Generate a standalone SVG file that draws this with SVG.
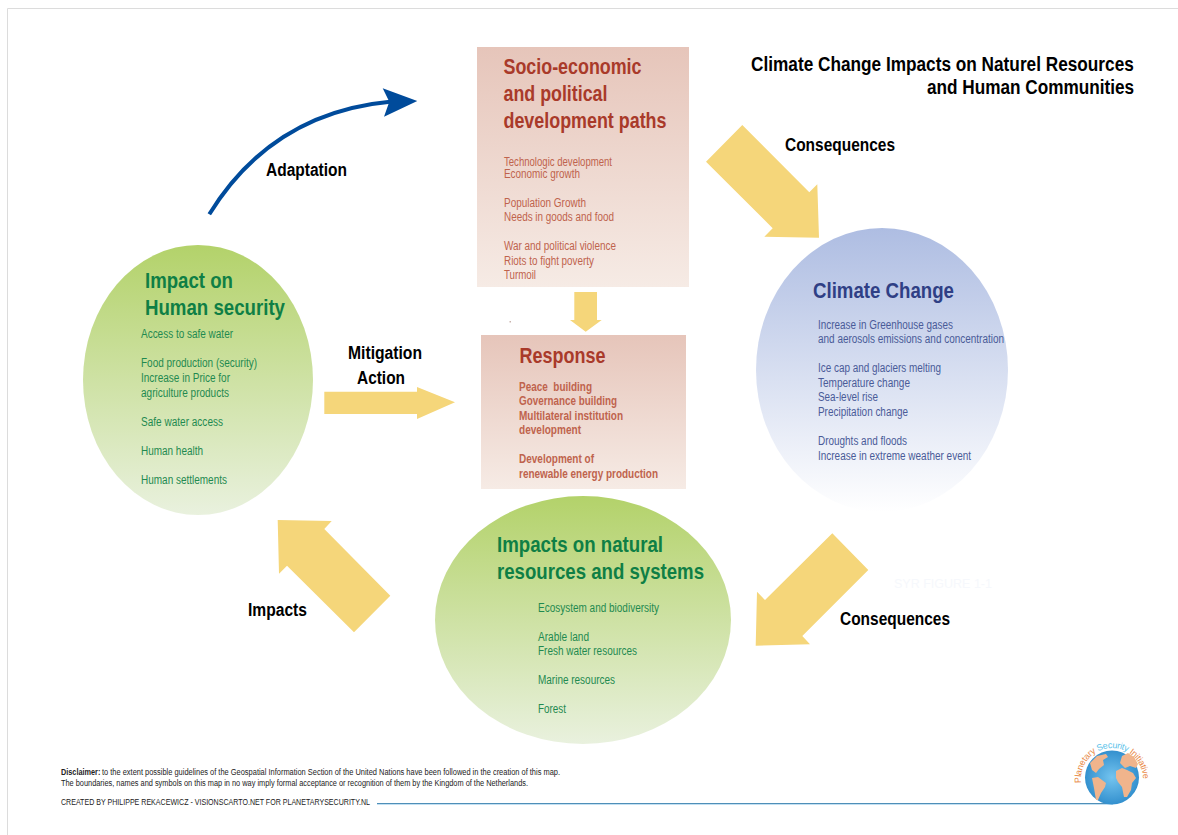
<svg xmlns="http://www.w3.org/2000/svg" width="1178" height="835" viewBox="0 0 1178 835">
<style>
text{font-family:"Liberation Sans",Arial,sans-serif}
.h{font-weight:bold;font-size:22px}
.g{fill:#0f7f45}
.gs{fill:#1f8a50}
.s{font-size:12px}
.r{fill:#bf634d}.rh{fill:#a93a2a}
.b{fill:#4a5b98}.bh{fill:#2f3f85}
.k{font-weight:bold;font-size:18px;fill:#000}
.ar{fill:#f5d67a}
.d{font-size:8.5px;fill:#222}
.cn{fill:#f0b48c}
</style>
<defs>
<linearGradient id="gr" x1="0" y1="0" x2="0" y2="1"><stop offset="0" stop-color="#b3d26a"/><stop offset="1" stop-color="#e9f1de"/></linearGradient>
<linearGradient id="bl" x1="0" y1="0" x2="0" y2="1"><stop offset="0" stop-color="#aebde2"/><stop offset="1" stop-color="#ffffff"/></linearGradient>
<linearGradient id="re" x1="0" y1="0" x2="0" y2="1"><stop offset="0" stop-color="#e6c5ba"/><stop offset="1" stop-color="#f6ebe5"/></linearGradient>
<radialGradient id="gl" cx="0.5" cy="0.5" r="0.55"><stop offset="0" stop-color="#74c4ef"/><stop offset="1" stop-color="#2d8bcb"/></radialGradient>
<path id="arc" d="M1081.2 782.8A31 31 0 1 1 1138.8 794.5"/>
</defs>
<rect width="1178" height="835" fill="#fff"/>
<path d="M1178 8.5H7.5V835" fill="none" stroke="#dcdcdc" stroke-width="1"/>
<g id="title" font-weight="bold" font-size="20">
<text transform="translate(751 71) scale(.87 1)" textLength="440" lengthAdjust="spacingAndGlyphs">Climate Change Impacts on Naturel Resources</text>
<text transform="translate(927 94) scale(.87 1)" textLength="238" lengthAdjust="spacingAndGlyphs">and Human Communities</text>
</g>
<g id="connectors">
<path d="M209.300 214.300C255 140 320 108 392 101.500" fill="none" stroke="#004b9b" stroke-width="4"/>
<path d="M382.700 88.300L417.300 101L384 116.700L389.300 101.700Z" fill="#004b9b"/>
<path class="ar" d="M742.300 125L809.300 192.300L817.300 184.300L819 237.700L764.300 236.700L772.700 228.300L706 161.700Z"/>
<path class="ar" d="M574.300 292H597V320H601.700L585.700 331.700L570 320H574.300Z"/>
<path class="ar" d="M324.300 391.700H417V387L455 402.300L417 419V414H324.300Z"/>
<path class="ar" d="M832.300 533.300L868.300 570L802.300 636L810 644.300L755.700 645.700L757 591.700L765 600Z"/>
<path class="ar" d="M277.700 520L331.700 521L324.300 529L390.300 595.700L354 632.300L287 565.700L279 573.700Z"/>
</g>
<rect x="509.500" y="321" width="1.500" height="1.500" fill="#c9b3ad"/>
<g id="socio">
<rect x="477" y="47" width="212" height="240" fill="url(#re)"/>
<g class="h rh"><text x="503.500" y="74" textLength="138" lengthAdjust="spacingAndGlyphs">Socio-economic</text><text x="503.500" y="101" textLength="104" lengthAdjust="spacingAndGlyphs">and political</text><text x="503.500" y="128" textLength="163" lengthAdjust="spacingAndGlyphs">development paths</text></g>
<g class="s r"><text x="504" y="166" textLength="108" lengthAdjust="spacingAndGlyphs">Technologic development</text><text x="504" y="178" textLength="76" lengthAdjust="spacingAndGlyphs">Economic growth</text><text x="504" y="207" textLength="82" lengthAdjust="spacingAndGlyphs">Population Growth</text><text x="504" y="221" textLength="110" lengthAdjust="spacingAndGlyphs">Needs in goods and food</text><text x="504" y="250" textLength="112" lengthAdjust="spacingAndGlyphs">War and political violence</text><text x="504" y="265" textLength="90" lengthAdjust="spacingAndGlyphs">Riots to fight poverty</text><text x="504" y="279" textLength="32" lengthAdjust="spacingAndGlyphs">Turmoil</text></g>
</g>
<g id="response">
<rect x="481" y="335" width="205" height="154" fill="url(#re)"/>
<text class="h rh" x="519.500" y="363" textLength="86" lengthAdjust="spacingAndGlyphs">Response</text>
<g class="s r" font-weight="bold"><text x="519" y="391" textLength="73" lengthAdjust="spacingAndGlyphs">Peace&#160; building</text><text x="519" y="405" textLength="98" lengthAdjust="spacingAndGlyphs">Governance building</text><text x="519" y="420" textLength="104" lengthAdjust="spacingAndGlyphs">Multilateral institution</text><text x="519" y="434" textLength="62" lengthAdjust="spacingAndGlyphs">development</text><text x="519" y="463" textLength="75" lengthAdjust="spacingAndGlyphs">Development of</text><text x="519" y="478" textLength="139" lengthAdjust="spacingAndGlyphs">renewable energy production</text></g>
</g>
<g id="human-security">
<ellipse cx="198" cy="380" rx="115" ry="135" fill="url(#gr)"/>
<g class="h g"><text x="145" y="288" textLength="88" lengthAdjust="spacingAndGlyphs">Impact on</text><text x="145" y="315" textLength="140" lengthAdjust="spacingAndGlyphs">Human security</text></g>
<g class="s gs"><text x="141" y="338" textLength="92" lengthAdjust="spacingAndGlyphs">Access to safe water</text><text x="141" y="367" textLength="116" lengthAdjust="spacingAndGlyphs">Food production (security)</text><text x="141" y="382" textLength="89" lengthAdjust="spacingAndGlyphs">Increase in Price for</text><text x="141" y="397" textLength="88" lengthAdjust="spacingAndGlyphs">agriculture products</text><text x="141" y="426" textLength="82" lengthAdjust="spacingAndGlyphs">Safe water access</text><text x="141" y="455" textLength="62" lengthAdjust="spacingAndGlyphs">Human health</text><text x="141" y="484" textLength="86" lengthAdjust="spacingAndGlyphs">Human settlements</text></g>
</g>
<g id="climate-change">
<ellipse cx="882" cy="370" rx="126" ry="142" fill="url(#bl)"/>
<text class="h bh" x="813" y="298" textLength="141" lengthAdjust="spacingAndGlyphs">Climate Change</text>
<g class="s b"><text x="818" y="329" textLength="135" lengthAdjust="spacingAndGlyphs">Increase in Greenhouse gases</text><text x="818" y="343" textLength="186" lengthAdjust="spacingAndGlyphs">and aerosols emissions and concentration</text><text x="818" y="372" textLength="123" lengthAdjust="spacingAndGlyphs">Ice cap and glaciers melting</text><text x="818" y="387" textLength="92" lengthAdjust="spacingAndGlyphs">Temperature change</text><text x="818" y="401" textLength="60" lengthAdjust="spacingAndGlyphs">Sea-level rise</text><text x="818" y="416" textLength="90" lengthAdjust="spacingAndGlyphs">Precipitation change</text><text x="818" y="445" textLength="89" lengthAdjust="spacingAndGlyphs">Droughts and floods</text><text x="818" y="460" textLength="153" lengthAdjust="spacingAndGlyphs">Increase in extreme weather event</text></g>
</g>
<g id="natural-resources">
<ellipse cx="583" cy="620" rx="148" ry="124" fill="url(#gr)"/>
<g class="h g"><text x="497" y="552" textLength="166" lengthAdjust="spacingAndGlyphs">Impacts on natural</text><text x="497" y="579" textLength="207" lengthAdjust="spacingAndGlyphs">resources and systems</text></g>
<g class="s gs"><text x="538" y="612" textLength="121" lengthAdjust="spacingAndGlyphs">Ecosystem and biodiversity</text><text x="538" y="641" textLength="51" lengthAdjust="spacingAndGlyphs">Arable land</text><text x="538" y="655" textLength="99" lengthAdjust="spacingAndGlyphs">Fresh water resources</text><text x="538" y="684" textLength="77" lengthAdjust="spacingAndGlyphs">Marine resources</text><text x="538" y="713" textLength="28" lengthAdjust="spacingAndGlyphs">Forest</text></g>
</g>
<g id="labels">
<text class="k" x="266" y="176" textLength="81" lengthAdjust="spacingAndGlyphs">Adaptation</text>
<text class="k" x="785" y="151" textLength="110" lengthAdjust="spacingAndGlyphs">Consequences</text>
<text class="k" x="348" y="359" textLength="74" lengthAdjust="spacingAndGlyphs">Mitigation</text>
<text class="k" x="357" y="384" textLength="48" lengthAdjust="spacingAndGlyphs">Action</text>
<text class="k" x="248" y="616" textLength="59" lengthAdjust="spacingAndGlyphs">Impacts</text>
<text class="k" x="840" y="625" textLength="110" lengthAdjust="spacingAndGlyphs">Consequences</text>
<text x="894" y="588" font-size="13" fill="#f6f8fc" textLength="98" lengthAdjust="spacingAndGlyphs">SYR FIGURE 1-1</text>
</g>
<g id="footer">
<text class="d" transform="translate(61 775) scale(.82 1)" font-weight="bold" textLength="48" lengthAdjust="spacingAndGlyphs">Disclaimer:</text>
<text class="d" x="102" y="775" textLength="458" lengthAdjust="spacingAndGlyphs">to the extent possible guidelines of the Geospatial Information Section of the United Nations have been followed in the creation of this map.</text>
<text class="d" x="61" y="786" textLength="467" lengthAdjust="spacingAndGlyphs">The boundaries, names and symbols on this map in no way imply formal acceptance or recognition of them by the Kingdom of the Netherlands.</text>
<text class="d" x="61" y="805" textLength="309" lengthAdjust="spacingAndGlyphs">CREATED BY PHILIPPE REKACEWICZ - VISIONSCARTO.NET FOR PLANETARYSECURITY.NL</text>
<rect x="377" y="803" width="736" height="1" fill="#4f8fb8"/>
<rect x="377" y="804" width="736" height="0.7" fill="#a9d3ec"/>
</g>
<g id="logo">
<circle cx="1112" cy="777.500" r="27" fill="url(#gl)"/>
<path class="cn" d="M1090 763L1097 756L1106 754L1108 757L1103 760L1104 765L1099 769L1096 773L1092 770Z"/>
<path class="cn" d="M1092 778L1098 777L1106 783L1105 787L1101 793L1098 800L1096 800L1094 788Z"/>
<path class="cn" d="M1116 771L1122 768L1127 770L1133 773L1136 778L1132 783L1131 790L1127 797L1124 797L1122 787L1118 782L1116 778Z"/>
<path class="cn" d="M1120 763L1122 756L1128 753L1134 757L1138 764L1136 768L1130 766L1125 768Z"/>
<text font-size="9" letter-spacing="-0.280"><textPath href="#arc"><tspan fill="#e8873f">Planetary </tspan><tspan fill="#5cc3ea">Security </tspan><tspan fill="#e8873f">Initiative</tspan></textPath></text>
</g>
</svg>
